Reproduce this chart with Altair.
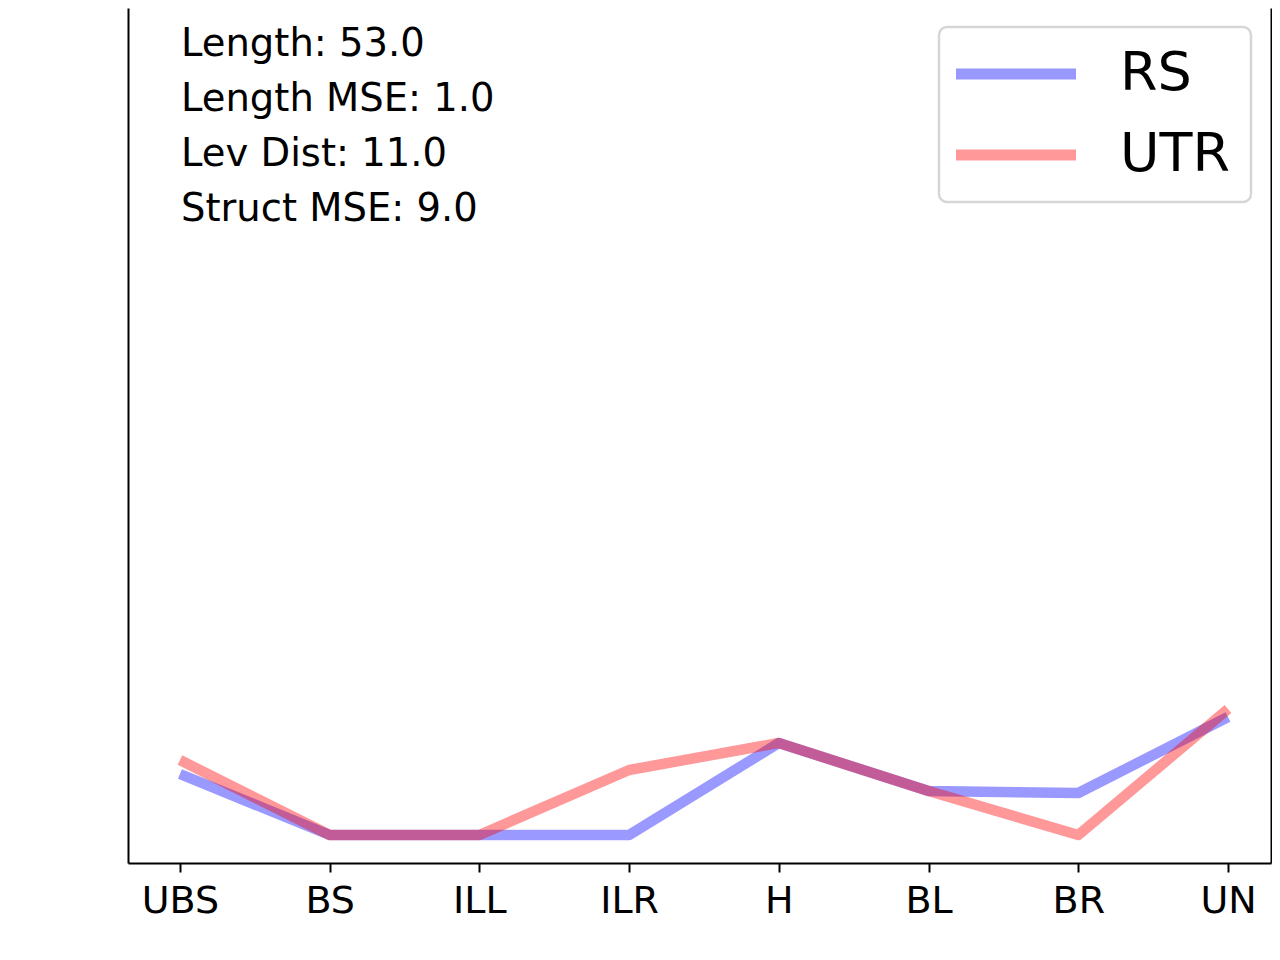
import altair as alt
import pandas as pd

categories = ["UBS", "BS", "ILL", "ILR", "H", "BL", "BR", "UN"]
rs_values = [0.061, 0.0, 0.0, 0.0, 0.092, 0.044, 0.042, 0.118]
utr_values = [0.075, 0.0, 0.0, 0.065, 0.092, 0.044, 0.0, 0.126]
series_names = ["RS", "UTR"]
series_colors = ["blue", "red"]
stats_lines = ["Length: 53.0", "Length MSE: 1.0", "Lev Dist: 11.0", "Struct MSE: 9.0"]
y_domain = [-0.028, 0.827]
x_domain = [-0.347, 7.287]

rows = []
for name, vals in zip(series_names, [rs_values, utr_values]):
    for i, c in enumerate(categories):
        rows.append({"cat": c, "series": name, "value": vals[i], "idx": i})
df = pd.DataFrame(rows)

FONT = "DejaVu Sans"
label_expr = "[" + ",".join("'%s'" % c for c in categories) + "][datum.value]"

x_scale = alt.Scale(domain=x_domain, nice=False, zero=False)
x_enc = alt.X(
    "idx:Q",
    scale=x_scale,
    axis=alt.Axis(
        title=None, values=list(range(len(categories))), labelExpr=label_expr,
        labelAngle=0, labelFontSize=38, labelFont=FONT, labelFlush=False,
        labelColor="black", tickSize=9, tickWidth=2, tickColor="black",
        domainColor="black", domainWidth=2, labelPadding=10, grid=False,
        labelOverlap=False,
    ),
)

y_scale = alt.Scale(domain=y_domain, nice=False, zero=False)

lines = alt.Chart(df).mark_line(strokeWidth=10.5, opacity=0.4, strokeJoin="round").encode(
    x=x_enc,
    y=alt.Y("value:Q", scale=y_scale,
            axis=alt.Axis(title=None, labels=False, ticks=False, grid=False,
                          domainColor="black", domainWidth=2)),
    color=alt.Color(
        "series:N",
        scale=alt.Scale(domain=series_names, range=series_colors),
        legend=alt.Legend(
            title=None, orient="none", legendX=811, legendY=19,
            symbolType="M-2,0H6", symbolSize=900, symbolStrokeWidth=11,
            symbolOpacity=0.4, labelFontSize=54, labelFont=FONT,
            labelColor="black", labelOffset=107, rowPadding=27, padding=20,
            strokeColor="#d6d6d6", cornerRadius=8,
            fillColor="white",
        ),
    ),
    order="idx:Q",
)

right_axis = alt.Chart(df).mark_line(opacity=0).encode(
    x=alt.X("idx:Q", scale=x_scale),
    y=alt.Y("value:Q", scale=y_scale,
            axis=alt.Axis(orient="right", title=None, labels=False, ticks=False,
                          grid=False, domainColor="black", domainWidth=2)),
    detail="series:N",
)

text = alt.Chart(pd.DataFrame({"d": [0]})).mark_text(
    text=stats_lines, align="left", baseline="alphabetic", fontSize=38.5,
    font=FONT, color="black", lineHeight=55,
).encode(x=alt.value(53), y=alt.value(48))

chart = alt.layer(lines, right_axis, text).resolve_scale(y="independent").properties(
    width=1143, height=855, background="white",
    autosize=alt.AutoSizeParams(type="none"),
    padding={"left": 120, "top": 0, "right": 1, "bottom": 90},
).configure_view(stroke=None).configure_legend(strokeWidth=2.5)

chart.save("out.html", embed_options={"renderer": "svg", "actions": False})
